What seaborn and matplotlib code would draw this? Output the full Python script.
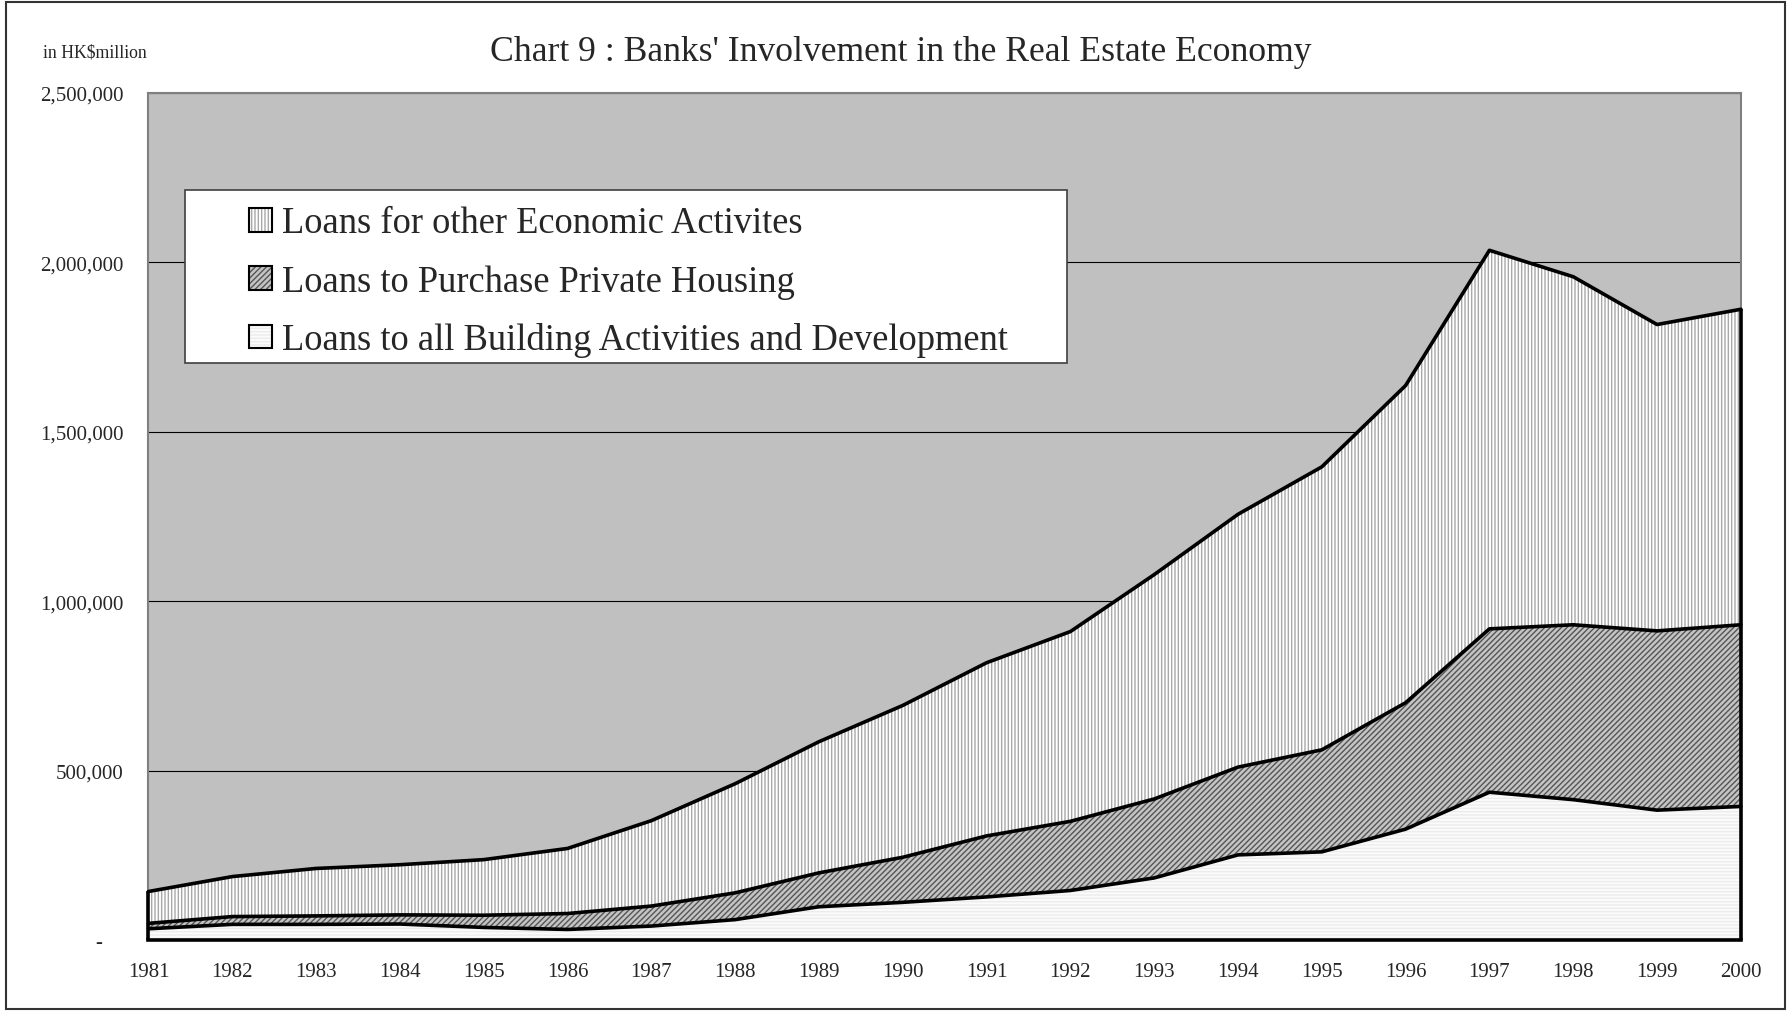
import numpy as np
import seaborn as sns
import matplotlib
matplotlib.use("Agg")
from matplotlib import pyplot as plt
from matplotlib.patches import Patch, Rectangle
from matplotlib.legend_handler import HandlerTuple
from matplotlib.ticker import FuncFormatter, MultipleLocator

YEARS = list(range(1981, 2001))

# HK$ million (stack order: bottom -> top)
BUILDING = [33000, 46000, 46000, 47000, 37000, 31000, 41000, 60000, 98000, 111000,
            127000, 146000, 183000, 251000, 260000, 327000, 436000, 414000, 383000, 394000]
HOUSING = [16000, 23000, 25000, 27000, 36000, 47000, 59000, 79000, 100000, 133000,
           180000, 204000, 233000, 259000, 301000, 373000, 482000, 516000, 529000, 536000]
OTHER = [94000, 118000, 140000, 148000, 164000, 192000, 252000, 322000, 387000, 448000,
         511000, 560000, 662000, 746000, 835000, 936000, 1117000, 1027000, 904000, 931000]

LABELS = ["Loans to all Building Activities and Development",
          "Loans to Purchase Private Housing",
          "Loans for other Economic Activites"]
TITLE = "Chart 9 : Banks' Involvement in the Real Estate Economy"

sns.set_style("white")
plt.rcParams["font.family"] = ["Liberation Serif", "DejaVu Serif"]
plt.rcParams["hatch.linewidth"] = 1.0

fig = plt.figure(figsize=(17.91, 10.12), dpi=100)
ax = fig.add_axes([0.0829, 0.0702, 0.8891, 0.8372])
ax.set_facecolor("#c0c0c0")

# (face, hatch colour, hatch)
styles = [("#fbfbfb", "#ececec", "-----"),
          ("#c4c4c4", "#555555", "//////"),
          ("white", "#a8a8a8", "|||||")]

ax.set_ylim(0, 2500000)
ax.set_xlim(YEARS[0], YEARS[-1])
ax.yaxis.set_major_locator(MultipleLocator(500000))
for v in np.arange(500000, 2500001, 500000):
    ax.axhline(v, color="black", lw=0.8, zorder=0.8)

lower = np.zeros(len(YEARS))
handles = []
for vals, (fc, hc, h) in zip([BUILDING, HOUSING, OTHER], styles):
    upper = lower + np.array(vals)
    ax.fill_between(YEARS, lower, upper, facecolor=fc, edgecolor=hc, hatch=h,
                    linewidth=0, zorder=1)
    sns.lineplot(x=YEARS, y=upper, color="black", lw=2.6, ax=ax, zorder=3, clip_on=False)
    handles.append((Patch(facecolor=fc, edgecolor=hc, hatch=h, linewidth=0),
                    Patch(facecolor="none", edgecolor="black", linewidth=1.5)))
    lower = upper
ax.vlines([YEARS[0], YEARS[-1]], 0, [lower[0], lower[-1]], color="black", lw=2.6,
          zorder=3, clip_on=False)

for side in ["top", "left", "right"]:
    ax.spines[side].set_color("#808080")
    ax.spines[side].set_linewidth(1.5)
ax.spines["bottom"].set_color("black")
ax.spines["bottom"].set_linewidth(2.6)

ax.set_xticks(YEARS)
ax.set_xticklabels([str(y) for y in YEARS])
ax.tick_params(axis="x", direction="in", length=6, width=1, color="black", pad=16, labelsize=15)
ax.tick_params(axis="y", length=0, pad=18, labelsize=15)
ax.yaxis.set_major_formatter(FuncFormatter(lambda v, p: "-    " if v == 0 else f"{v:,.0f}"))
ax.set_xlabel("")
ax.set_ylabel("")

# legend with white box
ax.add_patch(Rectangle((0.0229, 0.681), 0.554, 0.204, transform=ax.transAxes,
                       facecolor="white", edgecolor="#404040", lw=1.2, zorder=5))
leg = ax.legend(handles[::-1], LABELS[::-1], handler_map={tuple: HandlerTuple(ndivide=1)},
                loc="center left", bbox_to_anchor=(0.0631, 0.777), frameon=False,
                fontsize=26.3, handlelength=0.63, handleheight=0.63, handletextpad=0.28,
                labelspacing=0.65, borderpad=0, borderaxespad=0)
leg.set_zorder(6)

fig.text(0.503, 0.948, TITLE, ha="center", va="center", fontsize=25.7)
fig.text(0.024, 0.948, "in HK\\$million", ha="left", va="center", fontsize=12.8)

fig.add_artist(Rectangle((0.0033, 0.002), 0.9933, 0.995, transform=fig.transFigure,
                         fill=False, edgecolor="#333333", lw=1.5))

fig.savefig("out.png", dpi=100)
